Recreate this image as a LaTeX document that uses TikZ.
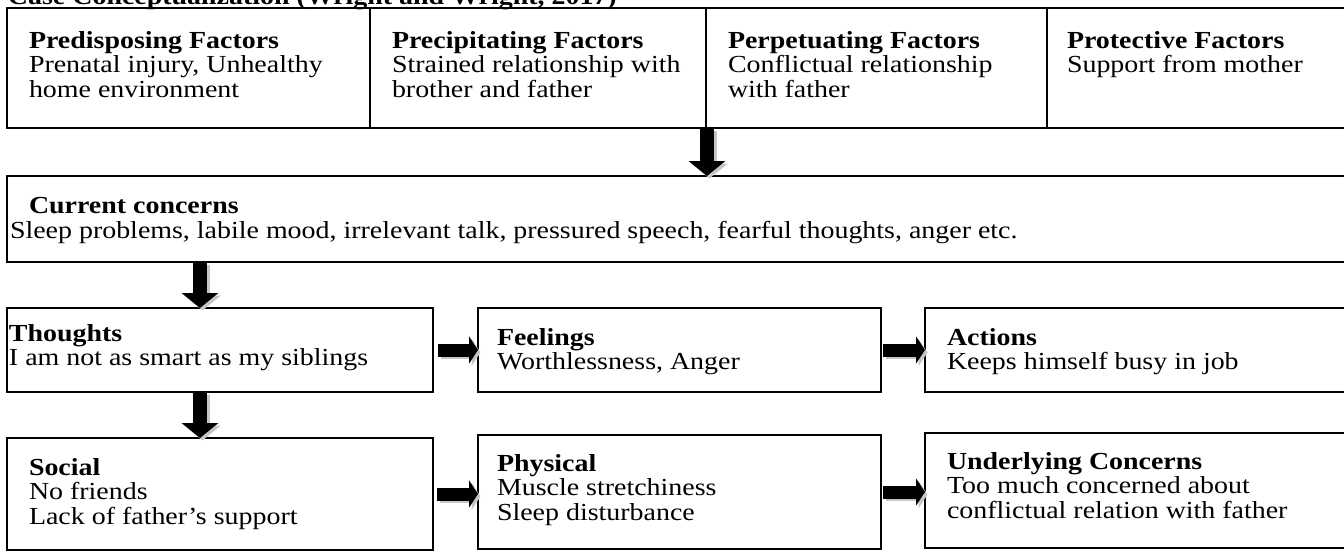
\documentclass[tikz,border=0pt]{standalone}
\usepackage{graphicx}
\usepackage{fontspec}
\setmainfont{Liberation Serif}
\usetikzlibrary{arrows.meta}
\newcommand{\ctxt}[1]{\scalebox{1.14}[1]{\begin{tabular}[t]{@{}l@{}}#1\end{tabular}}}
\tikzset{
  box/.style={draw, line width=1.9pt, anchor=north west, inner sep=0pt, outer sep=0pt},
  lbl/.style={anchor=base west, inner sep=0pt, outer sep=0pt, font=\fontsize{24.5}{24.5}\selectfont},
  varrow/.style={line width=14pt, -{Triangle[length=15pt,width=36pt]}},
  harrow/.style={line width=13pt, -{Triangle[length=9pt,width=27pt]}},
  shadowed/.style={gray!45, transform canvas={shift={(2.5pt,-2.5pt)}}}
}
\begin{document}
\begin{tikzpicture}[x=1pt,y=-1pt]
\clip (0,0) rectangle (1344,552);
\fill[white] (0,0) rectangle (1344,552);
% title (cut at top, as in the reference)
\node[lbl, font=\fontsize{24.5}{24.5}\selectfont\bfseries] (title) at (8,4) {\ctxt{Case Conceptualization (Wright and Wright, 2017)}};
% top row
\node[box, minimum width=363pt, minimum height=120pt] (p1) at (7,8) {};
\node[box, minimum width=336pt, minimum height=120pt] (p2) at (370,8) {};
\node[box, minimum width=341pt, minimum height=120pt] (p3) at (706,8) {};
\node[box, minimum width=330pt, minimum height=120pt] (p4) at (1047,8) {};
\node[lbl] (t1) at (29,48) {\ctxt{\textbf{Predisposing Factors}\\Prenatal injury, Unhealthy\\home environment}};
\node[lbl] (t2) at (392,48) {\ctxt{\textbf{Precipitating Factors}\\Strained relationship with\\brother and father}};
\node[lbl] (t3) at (728,48) {\ctxt{\textbf{Perpetuating Factors}\\Conflictual relationship\\with father}};
\node[lbl] (t4) at (1067,48) {\ctxt{\textbf{Protective Factors}\\Support from mother}};
% current concerns
\node[box, minimum width=1370pt, minimum height=86pt] (cur) at (7,176) {};
\node[lbl] (curh) at (29,213) {\ctxt{\textbf{Current concerns}}};
\node[lbl] (curt) at (10,238) {\ctxt{Sleep problems, labile mood, irrelevant talk, pressured speech, fearful thoughts, anger etc.}};
% row 2
\node[box, minimum width=426pt, minimum height=84pt] (thoughts) at (7,308) {};
\node[box, minimum width=403pt, minimum height=84pt] (feelings) at (478,308) {};
\node[box, minimum width=450pt, minimum height=84pt] (actions) at (925,308) {};
\node[lbl] (tht) at (9,341) {\ctxt{\textbf{Thoughts}\\I am not as smart as my siblings}};
\node[lbl] (fet) at (497,345) {\ctxt{\textbf{Feelings}\\Worthlessness, Anger}};
\node[lbl] (act) at (947,345) {\ctxt{\textbf{Actions}\\Keeps himself busy in job}};
% row 3
\node[box, minimum width=426pt, minimum height=112pt] (social) at (7,438) {};
\node[box, minimum width=403pt, minimum height=114pt] (physical) at (478,435) {};
\node[box, minimum width=450pt, minimum height=115pt] (under) at (925,433) {};
\node[lbl] (sot) at (29,475) {\ctxt{\textbf{Social}\\No friends\\Lack of father’s support}};
\node[lbl] (pht) at (497,471) {\ctxt{\textbf{Physical}\\Muscle stretchiness\\Sleep disturbance}};
\node[lbl] (unt) at (947,469) {\ctxt{\textbf{Underlying Concerns}\\Too much concerned about\\conflictual relation with father}};
% connectors
\coordinate (a1s) at ([xshift=1pt]p3.south west);
\coordinate (ax) at (200,0);
\coordinate (h1s) at ([xshift=5pt]thoughts.east);
\coordinate (h2s) at ([xshift=2pt]feelings.east);
\coordinate (h3s) at ([xshift=4pt]social.east);
\coordinate (h4s) at ([xshift=2pt]physical.east);
\foreach \s in {shadowed,black}{
  \draw[varrow,\s] (a1s) -- (a1s |- cur.north);
  \draw[varrow,\s] (ax |- cur.south) -- (ax |- thoughts.north);
  \draw[varrow,\s] (ax |- thoughts.south) -- (ax |- social.north);
  \draw[harrow,\s] (h1s) -- (h1s -| feelings.west);
  \draw[harrow,\s] (h2s) -- (h2s -| actions.west);
  \draw[harrow,\s] (h3s) -- (h3s -| physical.west);
  \draw[harrow,\s] (h4s) -- (h4s -| under.west);
}
\end{tikzpicture}
\end{document}
